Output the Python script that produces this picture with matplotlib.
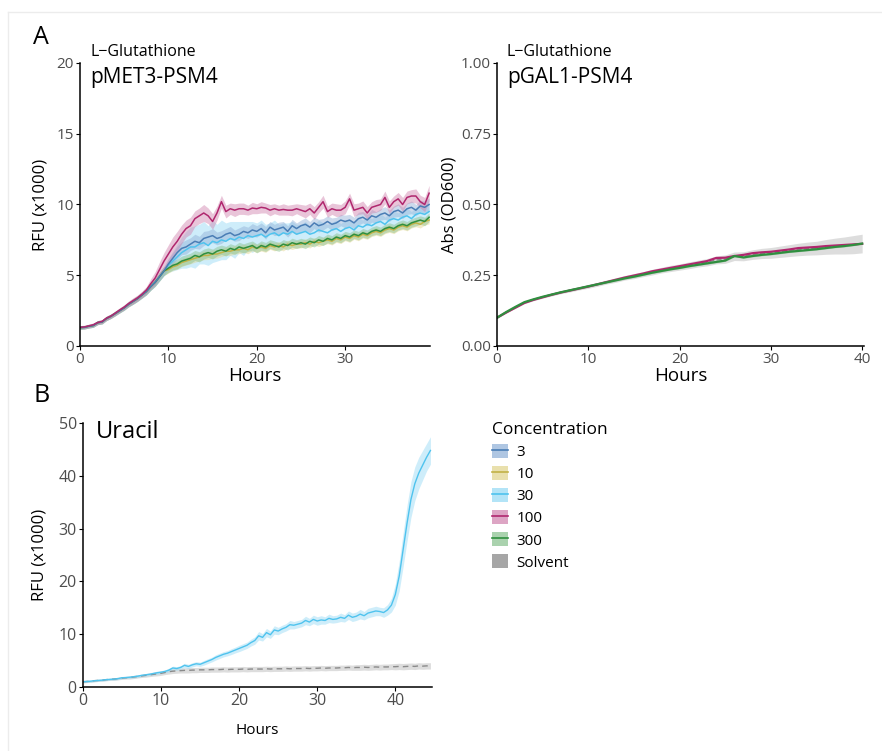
import numpy as np
import matplotlib
matplotlib.use("Agg")
import matplotlib.pyplot as plt
from matplotlib.patches import Patch
from matplotlib.lines import Line2D

plt.rcParams['font.family'] = ['Open Sans', 'DejaVu Sans']

# ---------------- data ----------------
concentrations = ['3', '10', '30', '100', '300', 'Solvent']
line_colors = {'3': '#4a7db5', '10': '#c2b247', '30': '#4fc3ee', '100': '#b0276e',
               '300': '#2f8f3f', 'Solvent': '#8a8a8a'}
fill_colors = {'3': '#8eaed6', '10': '#e0d48a', '30': '#93d9f5', '100': '#cf7fab',
               '300': '#86c08c', 'Solvent': '#b5b5b5'}

# Panel A left: RFU (x1000), every 0.5 h from 0 h
a_early = [1.30, 1.32, 1.40, 1.45, 1.65, 1.70, 1.95, 2.10, 2.30, 2.50,
           2.70, 2.95, 3.15, 3.35, 3.60, 3.85, 4.20, 4.50, 4.90, 5.30]
rfu_100 = [1.32, 1.35, 1.42, 1.50, 1.66, 1.74, 1.97, 2.12, 2.33, 2.55,
           2.75, 3.00, 3.20, 3.40, 3.65, 3.95, 4.40, 4.80, 5.40, 6.00,
           6.5, 7.0, 7.4, 7.9, 8.3, 8.5, 9.0, 9.2, 9.4, 9.2,
           8.8, 9.4, 10.2, 9.5, 9.7, 9.6, 9.7, 9.7, 9.6, 9.75,
           9.7, 9.8, 9.75, 9.6, 9.7, 9.6, 9.65, 9.6, 9.6, 9.7,
           9.6, 9.5, 9.7, 9.4, 9.8, 10.2, 9.5, 9.7, 9.6, 9.6,
           9.8, 10.4, 9.6, 9.7, 9.8, 9.4, 9.8, 9.9, 10.0, 10.5,
           9.8, 10.2, 10.4, 10.0, 10.5, 10.6, 10.6, 10.2, 10.0, 10.8]
rfu_3 = a_early + [
           5.8, 6.2, 6.6, 6.9, 7.0, 7.2, 7.4, 7.3, 7.6, 7.7,
           7.8, 7.6, 7.7, 7.9, 8.0, 7.8, 7.9, 8.1, 8.0, 8.2,
           8.1, 8.3, 8.0, 8.4, 8.2, 8.3, 8.4, 8.1, 8.5, 8.3,
           8.5, 8.6, 8.4, 8.7, 8.5, 8.6, 8.8, 8.6, 8.7, 8.9,
           8.8, 8.9, 8.7, 9.0, 9.1, 8.9, 9.2, 9.1, 9.3, 9.4,
           9.2, 9.5, 9.6, 9.4, 9.7, 9.8, 9.6, 9.9, 9.8, 10.0]
rfu_30 = a_early + [
           5.7, 6.0, 6.3, 6.6, 6.8, 7.0, 7.0, 7.2, 7.3, 7.1,
           7.4, 7.3, 7.5, 7.4, 7.6, 7.5, 7.7, 7.6, 7.8, 7.7,
           7.8, 7.9, 7.7, 7.9, 8.0, 7.8, 8.0, 7.9, 8.1, 7.9,
           8.0, 8.1, 7.9, 8.0, 8.2, 8.1, 8.0, 8.2, 8.3, 8.1,
           8.3, 8.4, 8.2, 8.5, 8.4, 8.6, 8.5, 8.7, 8.8, 8.6,
           8.9, 9.0, 8.9, 9.1, 9.2, 9.0, 9.3, 9.4, 9.3, 9.5]
rfu_300 = a_early + [
           5.5, 5.7, 5.8, 6.0, 6.1, 6.2, 6.4, 6.3, 6.5, 6.6,
           6.5, 6.7, 6.8, 6.7, 6.9, 6.8, 7.0, 6.9, 7.0, 7.1,
           6.9, 7.1, 7.0, 7.2, 7.1, 7.0, 7.2, 7.1, 7.3, 7.2,
           7.3, 7.2, 7.4, 7.3, 7.5, 7.4, 7.6, 7.5, 7.7, 7.6,
           7.8, 7.7, 7.9, 7.8, 8.0, 7.9, 8.1, 8.2, 8.1, 8.3,
           8.4, 8.3, 8.5, 8.6, 8.5, 8.7, 8.8, 8.9, 8.8, 9.1]
rfu_10 = a_early + [
           5.4, 5.6, 5.7, 5.9, 6.0, 6.1, 6.2, 6.3, 6.4, 6.4,
           6.5, 6.5, 6.6, 6.7, 6.7, 6.8, 6.8, 6.9, 6.8, 7.0,
           6.9, 7.0, 6.9, 7.1, 7.0, 7.1, 7.0, 7.2, 7.1, 7.2,
           7.2, 7.3, 7.2, 7.4, 7.3, 7.4, 7.5, 7.4, 7.6, 7.5,
           7.7, 7.6, 7.8, 7.7, 7.9, 7.8, 8.0, 8.1, 8.0, 8.2,
           8.3, 8.2, 8.4, 8.5, 8.4, 8.6, 8.7, 8.6, 8.8, 8.9]
sd_early = [0.12, 0.12, 0.13, 0.13, 0.14, 0.14, 0.15, 0.15, 0.16, 0.16,
            0.17, 0.18, 0.20, 0.20, 0.22, 0.24, 0.26, 0.28, 0.30, 0.32]
sd_100 = sd_early[:16] + [0.35, 0.45, 0.55, 0.60] + [
          0.65, 0.70, 0.70, 0.65, 0.60, 0.60, 0.55, 0.55, 0.60, 0.55,
          0.55, 0.50, 0.45, 0.45, 0.40, 0.45, 0.40, 0.40, 0.35, 0.40,
          0.35, 0.40, 0.35, 0.40, 0.35, 0.35, 0.40, 0.35, 0.40, 0.35,
          0.40, 0.45, 0.40, 0.45, 0.40, 0.45, 0.40, 0.40, 0.45, 0.40,
          0.45, 0.40, 0.45, 0.40, 0.45, 0.45, 0.40, 0.45, 0.40, 0.45,
          0.45, 0.40, 0.45, 0.50, 0.45, 0.45, 0.50, 0.45, 0.50, 0.55]
sd_3 = sd_early + [
          0.35, 0.40, 0.45, 0.45, 0.50, 0.45, 0.50, 0.45, 0.50, 0.45,
          0.50, 0.45, 0.45, 0.40, 0.45, 0.40, 0.45, 0.40, 0.40, 0.45,
          0.40, 0.40, 0.45, 0.40, 0.40, 0.45, 0.40, 0.40, 0.45, 0.40,
          0.40, 0.45, 0.40, 0.40, 0.45, 0.40, 0.40, 0.45, 0.40, 0.40,
          0.45, 0.40, 0.40, 0.45, 0.40, 0.40, 0.45, 0.40, 0.40, 0.45,
          0.40, 0.40, 0.45, 0.40, 0.40, 0.45, 0.40, 0.40, 0.45, 0.45]
sd_30 = sd_early + [
          0.50, 0.70, 0.90, 1.10, 1.30, 1.40, 1.50, 1.40, 1.50, 1.40,
          1.50, 1.30, 1.40, 1.30, 1.20, 1.30, 1.10, 1.20, 1.00, 1.10,
          0.90, 1.00, 0.90, 0.80, 0.90, 0.80, 0.70, 0.80, 0.70, 0.70,
          0.60, 0.70, 0.60, 0.60, 0.70, 0.60, 0.60, 0.55, 0.60, 0.55,
          0.60, 0.55, 0.50, 0.55, 0.50, 0.55, 0.50, 0.50, 0.55, 0.50,
          0.50, 0.55, 0.50, 0.50, 0.55, 0.50, 0.50, 0.55, 0.50, 0.55]
sd_300 = sd_early + [
          0.30, 0.32, 0.34, 0.35, 0.35, 0.36, 0.35, 0.36, 0.35, 0.34,
          0.35, 0.34, 0.33, 0.34, 0.33, 0.32, 0.33, 0.32, 0.33, 0.32,
          0.32, 0.33, 0.32, 0.31, 0.32, 0.31, 0.32, 0.31, 0.32, 0.31,
          0.31, 0.32, 0.31, 0.30, 0.31, 0.30, 0.31, 0.30, 0.31, 0.30,
          0.30, 0.31, 0.30, 0.30, 0.31, 0.30, 0.30, 0.31, 0.30, 0.30,
          0.31, 0.30, 0.30, 0.31, 0.30, 0.30, 0.31, 0.30, 0.30, 0.31]
sd_10 = sd_early + [
          0.25, 0.26, 0.27, 0.28, 0.28, 0.29, 0.28, 0.29, 0.30, 0.29,
          0.30, 0.29, 0.28, 0.29, 0.30, 0.29, 0.28, 0.29, 0.28, 0.29,
          0.28, 0.29, 0.28, 0.27, 0.28, 0.27, 0.28, 0.27, 0.28, 0.27,
          0.27, 0.28, 0.27, 0.26, 0.27, 0.26, 0.27, 0.26, 0.27, 0.26,
          0.26, 0.27, 0.26, 0.26, 0.27, 0.26, 0.26, 0.27, 0.26, 0.26,
          0.27, 0.26, 0.26, 0.27, 0.26, 0.26, 0.27, 0.26, 0.26, 0.27]

# Panel A right: Abs (OD600), every 1 h from 0 h
od_100 = [0.100, 0.118, 0.135, 0.152, 0.163, 0.172, 0.181, 0.189, 0.196, 0.203,
          0.210, 0.218, 0.226, 0.234, 0.242, 0.249, 0.256, 0.264, 0.270, 0.276,
          0.282, 0.288, 0.294, 0.300, 0.311, 0.312, 0.318, 0.322, 0.328, 0.331,
          0.333, 0.337, 0.341, 0.346, 0.348, 0.350, 0.353, 0.355, 0.357, 0.359,
          0.361]
od_300 = [0.100, 0.120, 0.138, 0.155, 0.165, 0.174, 0.182, 0.190, 0.197, 0.204,
          0.211, 0.218, 0.225, 0.232, 0.239, 0.245, 0.252, 0.259, 0.265, 0.271,
          0.276, 0.282, 0.287, 0.292, 0.297, 0.302, 0.318, 0.313, 0.318, 0.322,
          0.325, 0.329, 0.333, 0.336, 0.339, 0.342, 0.346, 0.350, 0.353, 0.357,
          0.362]
od_solvent = [0.100, 0.119, 0.136, 0.153, 0.164, 0.173, 0.182, 0.190, 0.197, 0.204,
              0.211, 0.218, 0.226, 0.233, 0.241, 0.247, 0.254, 0.261, 0.268, 0.274,
              0.279, 0.285, 0.291, 0.296, 0.304, 0.307, 0.317, 0.317, 0.323, 0.327,
              0.329, 0.333, 0.337, 0.341, 0.344, 0.346, 0.350, 0.353, 0.355, 0.358,
              0.362]
od_solvent_sd = [0.002, 0.002, 0.003, 0.003, 0.004, 0.004, 0.005, 0.005, 0.006, 0.006,
                 0.007, 0.007, 0.007, 0.008, 0.008, 0.009, 0.009, 0.010, 0.010, 0.011,
                 0.011, 0.012, 0.012, 0.013, 0.014, 0.015, 0.015, 0.016, 0.017, 0.018,
                 0.019, 0.020, 0.021, 0.022, 0.023, 0.024, 0.026, 0.028, 0.030, 0.032,
                 0.033]

# Panel B: Uracil RFU (x1000), every 0.5 h from 0 h
ura_30 = [1.0, 1.05, 1.1, 1.2, 1.25, 1.3, 1.4, 1.45, 1.5, 1.6,
          1.75, 1.8, 1.85, 1.95, 2.05, 2.2, 2.3, 2.4, 2.55, 2.7,
          2.8, 2.95, 3.2, 3.6, 3.5, 3.7, 4.1, 3.9, 4.2, 4.4,
          4.3, 4.6, 4.9, 5.2, 5.6, 5.9, 6.2, 6.4, 6.7, 7.0,
          7.3, 7.6, 7.9, 8.4, 8.8, 9.7, 9.4, 10.3, 9.9, 10.8,
          10.6, 11.0, 11.3, 11.8, 11.7, 11.9, 12.1, 12.6, 12.3, 12.8,
          12.5, 12.7, 12.6, 13.0, 12.8, 12.9, 13.2, 13.0, 13.6, 13.2,
          13.4, 13.8, 13.5, 14.0, 14.2, 14.4, 14.3, 14.1, 14.6, 15.5,
          17.5, 21.0, 26.0, 31.0, 35.5, 38.5, 40.5, 42.0, 43.5, 44.8]
ura_30_sd = [0.2, 0.2, 0.2, 0.2, 0.2, 0.2, 0.2, 0.2, 0.2, 0.2,
             0.2, 0.2, 0.2, 0.25, 0.25, 0.25, 0.25, 0.25, 0.3, 0.3,
             0.3, 0.3, 0.35, 0.35, 0.35, 0.35, 0.4, 0.4, 0.4, 0.4,
             0.4, 0.45, 0.45, 0.45, 0.5, 0.5, 0.5, 0.5, 0.55, 0.55,
             0.6, 0.6, 0.6, 0.65, 0.7, 0.8, 0.7, 0.8, 0.7, 0.8,
             0.7, 0.7, 0.7, 0.8, 0.7, 0.7, 0.7, 0.8, 0.7, 0.8,
             0.8, 0.8, 0.7, 0.8, 0.7, 0.7, 0.8, 0.7, 0.8, 0.8,
             0.8, 0.9, 0.8, 0.9, 0.9, 0.9, 0.8, 0.9, 1.0, 1.3,
             2.0, 2.8, 3.2, 3.4, 3.4, 3.2, 3.0, 2.8, 2.6, 2.6]
ura_solvent = [1.0, 1.05, 1.1, 1.2, 1.25, 1.3, 1.4, 1.45, 1.5, 1.6,
               1.7, 1.75, 1.8, 1.9, 2.0, 2.1, 2.2, 2.3, 2.4, 2.5,
               2.6, 2.75, 2.9, 3.0, 3.05, 3.1, 3.15, 3.15, 3.2, 3.2,
               3.25, 3.25, 3.25, 3.3, 3.3, 3.3, 3.35, 3.3, 3.35, 3.35,
               3.35, 3.4, 3.35, 3.4, 3.4, 3.4, 3.4, 3.45, 3.4, 3.45,
               3.45, 3.45, 3.5, 3.45, 3.5, 3.5, 3.5, 3.55, 3.5, 3.55,
               3.55, 3.6, 3.55, 3.6, 3.6, 3.6, 3.65, 3.65, 3.7, 3.65,
               3.7, 3.7, 3.75, 3.7, 3.75, 3.8, 3.75, 3.8, 3.8, 3.85,
               3.85, 3.9, 3.85, 3.9, 3.95, 3.9, 4.0, 3.95, 4.0, 4.0]
ura_solvent_sd = [0.2, 0.2, 0.2, 0.2, 0.2, 0.2, 0.2, 0.2, 0.25, 0.25,
                  0.25, 0.25, 0.3, 0.3, 0.3, 0.3, 0.35, 0.35, 0.35, 0.4,
                  0.4, 0.4, 0.45, 0.45, 0.45, 0.45, 0.5, 0.5, 0.5, 0.5,
                  0.5, 0.5, 0.5, 0.5, 0.5, 0.5, 0.5, 0.5, 0.5, 0.5,
                  0.5, 0.5, 0.5, 0.5, 0.5, 0.5, 0.5, 0.5, 0.5, 0.5,
                  0.5, 0.5, 0.5, 0.5, 0.5, 0.5, 0.5, 0.5, 0.5, 0.5,
                  0.5, 0.5, 0.5, 0.5, 0.5, 0.5, 0.5, 0.5, 0.5, 0.5,
                  0.55, 0.55, 0.55, 0.55, 0.55, 0.55, 0.55, 0.55, 0.55, 0.55,
                  0.6, 0.6, 0.6, 0.6, 0.6, 0.6, 0.6, 0.6, 0.6, 0.6]

# ---------------- figure ----------------
W, H = 882, 751
fig = plt.figure(figsize=(W / 100, H / 100), dpi=100)


def ax_at(x0, y0, x1, y1):
    return fig.add_axes([x0 / W, 1 - y1 / H, (x1 - x0) / W, (y1 - y0) / H])


def style(ax, tick_size):
    for s in ['top', 'right']:
        ax.spines[s].set_visible(False)
    for s in ['left', 'bottom']:
        ax.spines[s].set_linewidth(1.1)
        ax.spines[s].set_color('black')
    ax.tick_params(length=3, width=0.8, labelsize=tick_size, labelcolor='#4d4d4d', pad=1.5)


def band(ax, t, m, sd, key, lw=1.1, ls='-', alpha=0.45):
    m = np.asarray(m)
    sd = np.asarray(sd)
    ax.fill_between(t, m - sd, m + sd, color=fill_colors[key], alpha=alpha, lw=0)
    ax.plot(t, m, color=line_colors[key], lw=lw, ls=ls)


# Panel A left
axA = ax_at(80, 63, 430, 346)
tA = np.arange(len(rfu_3)) * 0.5
for key, m, sd in [('30', rfu_30, sd_30), ('10', rfu_10, sd_10), ('300', rfu_300, sd_300),
                   ('3', rfu_3, sd_3), ('100', rfu_100, sd_100)]:
    band(axA, tA, m, sd, key)
axA.set_xlim(0, 39.6)
axA.set_ylim(0, 20)
axA.set_xticks([0, 10, 20, 30])
axA.set_yticks([0, 5, 10, 15, 20])
style(axA, 11)
axA.set_xlabel('Hours', fontsize=13.5, labelpad=0)
axA.set_ylabel('RFU (x1000)', fontsize=12, labelpad=6)

# Panel A right
axR = ax_at(497, 63, 864, 346)
tR = np.arange(len(od_100)) * 1.0
axR.fill_between(tR, np.asarray(od_solvent) - np.asarray(od_solvent_sd),
                 np.asarray(od_solvent) + np.asarray(od_solvent_sd),
                 color=fill_colors['Solvent'], alpha=0.45, lw=0)
axR.plot(tR, od_solvent, color=line_colors['Solvent'], lw=1.0, ls='--')
axR.fill_between(tR, np.asarray(od_300) - 0.003, np.asarray(od_300) + 0.003,
                 color=fill_colors['300'], alpha=0.6, lw=0)
axR.plot(tR, od_100, color=line_colors['100'], lw=1.6)
axR.plot(tR, od_300, color=line_colors['300'], lw=1.6)
axR.set_xlim(0, 40.2)
axR.set_ylim(0, 1)
axR.set_xticks([0, 10, 20, 30, 40])
axR.set_yticks([0, 0.25, 0.5, 0.75, 1.0])
axR.set_yticklabels(['0.00', '0.25', '0.50', '0.75', '1.00'])
style(axR, 11)
axR.set_xlabel('Hours', fontsize=13.5, labelpad=0)
axR.set_ylabel('Abs (OD600)', fontsize=12, labelpad=2)

# Panel B
axB = ax_at(83, 423, 432, 687)
tB = np.arange(len(ura_30)) * 0.5
band(axB, tB, ura_solvent, ura_solvent_sd, 'Solvent', lw=1.0, ls=(0, (4, 3)))
band(axB, tB, ura_30, ura_30_sd, '30', lw=1.0)
axB.set_xlim(0, 44.7)
axB.set_ylim(0, 50)
axB.set_xticks([0, 10, 20, 30, 40])
axB.set_yticks([0, 10, 20, 30, 40, 50])
style(axB, 11.5)
axB.set_xlabel('Hours', fontsize=11, labelpad=10)
axB.set_ylabel('RFU (x1000)', fontsize=12, labelpad=8)

# Texts
fig.text(33 / W, 1 - 38 / H, 'A', fontsize=18, va='center', ha='left')
fig.text(33 / W, 1 - 395 / H, 'B', fontsize=18, va='center', ha='left')
fig.text(90 / W, 1 - 52 / H, 'L\u2212Glutathione', fontsize=11.5, va='center', ha='left')
fig.text(90 / W, 1 - 77 / H, 'pMET3-PSM4', fontsize=15, va='center', ha='left')
fig.text(507 / W, 1 - 52 / H, 'L\u2212Glutathione', fontsize=11.5, va='center', ha='left')
fig.text(507 / W, 1 - 77 / H, 'pGAL1-PSM4', fontsize=15, va='center', ha='left')
fig.text(96 / W, 1 - 432 / H, 'Uracil', fontsize=17, va='center', ha='left')

# Legend
handles = []
for key in concentrations:
    p = Patch(facecolor=fill_colors[key], alpha=0.7, edgecolor='none')
    if key == 'Solvent':
        handles.append(Patch(facecolor='#a6a6a6', edgecolor='none'))
    else:
        handles.append((p, Line2D([], [], color=line_colors[key], lw=1.2)))
leg = fig.legend(handles, concentrations, loc='upper left',
                 bbox_to_anchor=(492 / W, 1 - 422 / H), frameon=False,
                 title='Concentration', fontsize=11, title_fontsize=12.5,
                 handlelength=1.05, handleheight=1.05, handletextpad=0.55,
                 labelspacing=0.38, borderpad=0, borderaxespad=0, alignment='left')

# faint frame
fig.add_artist(Line2D([8 / W, 8 / W], [0, 1 - 12 / H], color='#ececec', lw=1))
fig.add_artist(Line2D([8 / W, 1], [1 - 12 / H, 1 - 12 / H], color='#ececec', lw=1))

fig.savefig('out.png', dpi=100)
